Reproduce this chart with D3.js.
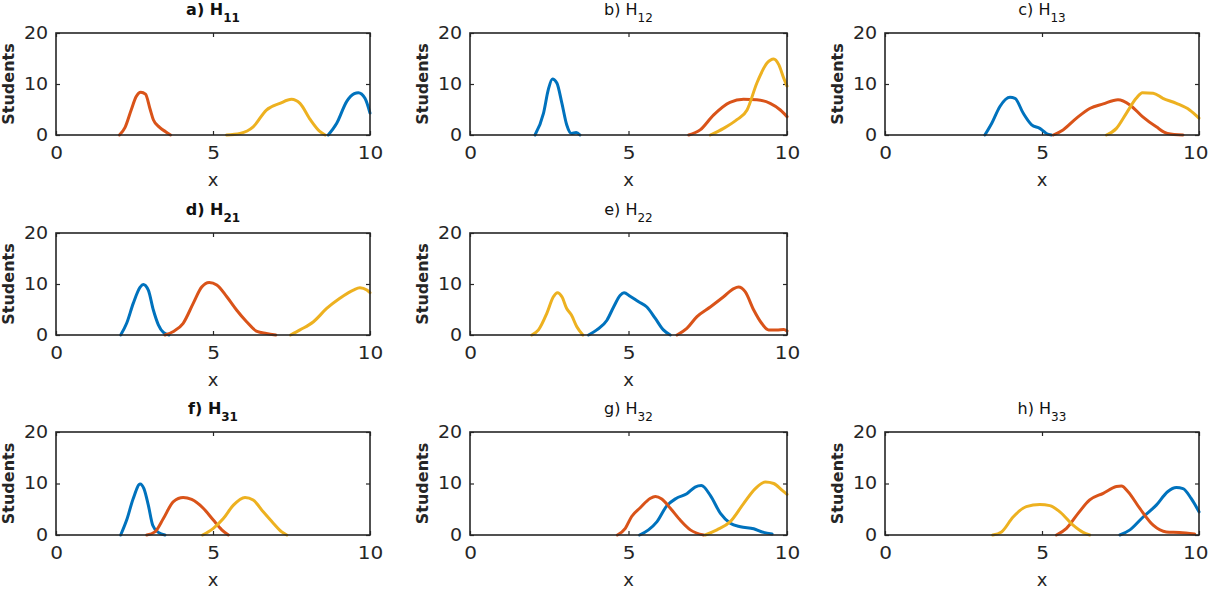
<!DOCTYPE html>
<html>
<head>
<meta charset="utf-8">
<script src="https://cdn.jsdelivr.net/npm/d3@7"></script>
<style>
html,body{margin:0;padding:0;background:#fff;}
svg{display:block;font-family:"DejaVu Sans",sans-serif;}
</style>
</head>
<body>
<svg id="chart" width="1210" height="589"></svg>
<script>
// ---- data (x, Students) ----
const xTicks = [0, 5, 10];
const yTicks = [0, 10, 20];
const xDomain = [0, 10];
const yDomain = [0, 20];
const seriesColors = ["#0072BD", "#D95319", "#EDB120"]; // blue, red, yellow

const a_blue   = [[8.67,0],[8.94,2.3],[9.26,6.6],[9.5,8.1],[9.63,8.3],[9.84,7.2],[10,4.3]];
const a_red    = [[2.02,0],[2.2,1.5],[2.4,5],[2.55,7.5],[2.7,8.4],[2.85,8],[3.0,5],[3.1,3],[3.3,1.5],[3.5,0.6],[3.65,0]];
const a_yellow = [[5.43,0],[5.86,0.3],[6.28,1.6],[6.7,4.9],[7.13,6.2],[7.5,7.0],[7.77,6.2],[8.1,3.0],[8.4,0.7],[8.57,0]];

const b_blue   = [[2.05,0],[2.32,4.3],[2.47,8.9],[2.6,11],[2.74,10.2],[2.9,6.2],[3.05,2],[3.2,0.3],[3.35,0.5],[3.47,0]];
const b_red    = [[6.9,0],[7.26,1],[7.68,3.9],[8.2,6.4],[8.63,7.0],[9.05,6.9],[9.47,6.2],[9.79,4.9],[10,3.6]];
const b_yellow = [[7.58,0],[8.0,1.3],[8.42,3],[8.74,4.9],[9.05,10.2],[9.37,14.1],[9.58,14.9],[9.74,13.8],[9.9,11.1],[10,9.6]];

const c_blue   = [[3.18,0],[3.4,2.3],[3.66,5.6],[3.98,7.4],[4.14,7.2],[4.4,4.3],[4.67,2],[4.93,1.3],[5.14,0.3],[5.3,0]];
const c_red    = [[5.36,0],[5.67,1],[6.1,3.3],[6.52,5.2],[6.95,6.1],[7.42,6.9],[7.8,5.9],[8.2,3.6],[8.64,1.6],[9.0,0.3],[9.49,0]];
const c_yellow = [[7.05,0],[7.37,1.3],[7.69,4.3],[8.0,7.2],[8.2,8.3],[8.54,8.2],[8.85,7.2],[9.28,6.2],[9.7,4.9],[10,3.3]];

const d_blue   = [[2.06,0],[2.25,2.3],[2.46,6.2],[2.68,9.4],[2.78,9.9],[2.94,8.8],[3.1,4.9],[3.26,2],[3.42,0.5],[3.6,0]];
const d_red    = [[3.47,0],[3.74,0.7],[4.05,2.3],[4.37,6.2],[4.64,9.4],[4.88,10.3],[5.12,9.8],[5.44,7.5],[5.75,4.9],[6.07,2.6],[6.4,0.7],[6.7,0.3],[7.0,0]];
const d_yellow = [[7.47,0],[7.77,1],[8.2,2.6],[8.62,5.2],[9.04,7.2],[9.47,8.8],[9.68,9.25],[9.9,8.8],[10,8.3]];

const e_blue   = [[3.74,0],[4.0,1],[4.32,2.9],[4.53,5.5],[4.74,7.8],[4.86,8.3],[5.05,7.6],[5.32,6.5],[5.58,5.5],[5.84,3.3],[6.1,1],[6.32,0]];
const e_red    = [[6.53,0],[6.84,1.3],[7.16,3.6],[7.58,5.5],[8.0,7.5],[8.32,9.1],[8.47,9.4],[8.68,8.5],[8.95,4.9],[9.2,2.3],[9.42,1],[9.68,1],[9.9,1.1],[10,0.8]];
const e_yellow = [[1.95,0],[2.16,1],[2.42,4.2],[2.63,7.5],[2.76,8.3],[2.9,7.5],[3.05,5.2],[3.2,3.9],[3.37,1.6],[3.56,0]];

const f_blue   = [[2.06,0],[2.25,2.9],[2.46,7.1],[2.68,9.9],[2.8,9.0],[2.94,5.8],[3.08,1.9],[3.26,0.5],[3.47,0]];
const f_red    = [[2.89,0],[3.15,0.6],[3.42,3.2],[3.74,6.5],[4.05,7.3],[4.32,6.9],[4.69,5.2],[5.01,2.9],[5.28,1],[5.49,0]];
const f_yellow = [[4.67,0],[5.01,1.3],[5.33,3.2],[5.65,5.8],[6.02,7.3],[6.28,6.8],[6.6,4.5],[6.92,2.3],[7.19,0.6],[7.35,0]];

const g_blue   = [[5.35,0],[5.63,1],[5.9,2.6],[6.2,5.6],[6.5,7.1],[6.84,8.0],[7.1,9.3],[7.3,9.6],[7.58,7.7],[7.9,4.2],[8.21,2.3],[8.53,1.6],[8.95,1.2],[9.26,0.5],[9.53,0.2]];
const g_red    = [[4.65,0],[4.9,1.3],[5.1,3.6],[5.37,5.3],[5.68,7.1],[5.85,7.5],[6.05,7.0],[6.32,5.2],[6.63,2.9],[6.95,1],[7.37,0]];
const g_yellow = [[7.42,0],[7.79,1],[8.21,2.6],[8.63,6.1],[9.0,9.0],[9.32,10.3],[9.58,10],[9.84,8.7],[10,7.9]];

const h_blue   = [[7.48,0],[7.8,1],[8.22,3.5],[8.64,5.8],[9.0,8.4],[9.28,9.2],[9.49,9.0],[9.75,7.1],[10,4.5]];
const h_red    = [[5.46,0],[5.78,1.3],[6.15,4.2],[6.52,6.8],[6.95,8.1],[7.37,9.4],[7.53,9.5],[7.74,8.4],[8.11,5.2],[8.54,1.9],[8.96,0.6],[9.38,0.5],[9.86,0.2]];
const h_yellow = [[3.43,0],[3.71,0.6],[4.08,3.5],[4.5,5.5],[4.93,5.9],[5.25,5.7],[5.57,4.5],[5.99,1.9],[6.31,0.5],[6.52,0]];

const panelLabels = ["a) H", "b) H", "c) H", "d) H", "e) H", "f) H", "g) H", "h) H"];
const panelSubs   = ["11", "12", "13", "21", "22", "31", "32", "33"];
const panelSeries = [
  [a_blue, a_red, a_yellow], [b_blue, b_red, b_yellow], [c_blue, c_red, c_yellow],
  [d_blue, d_red, d_yellow], [e_blue, e_red, e_yellow],
  [f_blue, f_red, f_yellow], [g_blue, g_red, g_yellow], [h_blue, h_red, h_yellow]
];

// ---- layout ----
const colX = [[56, 370], [470, 787], [885, 1199]];
const rowY = [[33, 135], [233, 335], [432, 535]];
const cells = [[0,0],[0,1],[0,2],[1,0],[1,1],[2,0],[2,1],[2,2]];
const boldTitle = [true, false, false, true, false, true, false, false];
const ink = "#262626";
const W = 1210;

const svg = d3.select("#chart");

panelSeries.forEach((series, i) => {
  const [r, c] = cells[i];
  const [x0, x1] = colX[c];
  const [y0, y1] = rowY[r];
  const x = d3.scaleLinear().domain(xDomain).range([x0, x1]);
  const y = d3.scaleLinear().domain(yDomain).range([y1, y0]);
  const g = svg.append("g");

  // axes (MATLAB box with inward ticks)
  const tl = 4;
  const axB = d3.axisBottom(x).tickValues(xTicks).tickSize(-tl).tickPadding(8).tickFormat(d3.format("d"));
  const axT = d3.axisTop(x).tickValues(xTicks).tickSize(-tl).tickFormat("");
  const axL = d3.axisLeft(y).tickValues(yTicks).tickSize(-tl).tickPadding(7).tickFormat(d3.format("d"));
  const axR = d3.axisRight(y).tickValues(yTicks).tickSize(-tl).tickFormat("");

  const gb = g.append("g").attr("transform", `translate(0,${y1})`).call(axB);
  const gt = g.append("g").attr("transform", `translate(0,${y0})`).call(axT);
  const gl = g.append("g").attr("transform", `translate(${x0},0)`).call(axL);
  const gr = g.append("g").attr("transform", `translate(${x1},0)`).call(axR);
  [gb, gt, gl, gr].forEach(a => {
    a.select(".domain").remove();
    a.selectAll(".tick line").attr("stroke", ink).attr("stroke-width", 1.2);
    a.selectAll("text").attr("fill", ink).style("font-size", "17px").style("font-family", "'DejaVu Sans', sans-serif");
  });
  gb.selectAll("text").attr("dy", "0.95em").attr("transform", "scale(1.18,1)");
  gl.selectAll("text").attr("transform", "scale(1.12,1)");
  // keep the right-most tick label inside the page
  gb.selectAll(".tick").each(function(d) {
    const txt = d3.select(this).select("text");
    const half = txt.node().getBBox().width * 1.18 / 2;
    const over = x(d) + half - (W - 2);
    if (over > 0) txt.attr("x", -over / 1.18);
  });

  // curves
  const line = d3.line().x(d => x(d[0])).y(d => y(d[1])).curve(d3.curveMonotoneX);
  series.forEach((s, k) => {
    g.append("path").datum(s)
      .attr("d", line)
      .attr("fill", "none")
      .attr("stroke", seriesColors[k])
      .attr("stroke-width", 3)
      .attr("stroke-linejoin", "round")
      .attr("stroke-linecap", "round");
  });

  // box
  g.append("rect").attr("x", x0).attr("y", y0).attr("width", x1 - x0).attr("height", y1 - y0)
    .attr("fill", "none").attr("stroke", ink).attr("stroke-width", 1.6);

  // title
  const t = g.append("text")
    .attr("x", (x0 + x1) / 2).attr("y", y0 - 18)
    .attr("text-anchor", "middle").attr("fill", "#111")
    .style("font-size", "16px").style("font-weight", boldTitle[i] ? "bold" : "normal");
  t.append("tspan").text(panelLabels[i]);
  t.append("tspan").attr("dy", 7).style("font-size", "12px").text(panelSubs[i]);

  // axis labels
  g.append("text")
    .attr("x", (x0 + x1) / 2).attr("y", y1 + 51)
    .attr("text-anchor", "middle").attr("fill", ink)
    .style("font-size", "18px").text("x");
  g.append("text")
    .attr("transform", `translate(${x0 - 42},${(y0 + y1) / 2}) rotate(-90)`)
    .attr("text-anchor", "middle").attr("fill", ink)
    .style("font-size", "16px").style("font-weight", "bold").text("Students");
});
</script>
</body>
</html>
